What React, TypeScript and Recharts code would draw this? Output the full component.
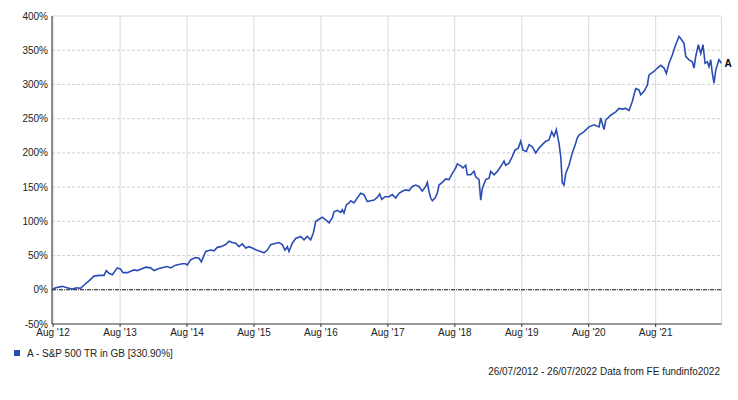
import React from "react";
import { LineChart, Line, XAxis, YAxis, CartesianGrid, ReferenceLine } from "recharts";

// elapsed months since 26/07/2012
const monthsSinceStart = [
  0, 0.66, 1.85, 2.69, 3.58, 4.48, 5.14, 5.74, 6.63, 7.53, 8.42, 9.32, 9.73, 10.22, 10.81, 11.7,
  12.31, 12.73, 13.5, 14.11, 14.7, 15.29, 15.9, 16.8, 17.69, 18.28, 19.18, 20.07, 20.67, 21.28, 22.17, 23.36,
  23.96, 24.25, 24.86, 25.76, 26.35, 26.76, 27.55, 28.45, 29.04, 29.63, 30.24, 31.13, 31.73, 32.32, 32.93,
  33.52, 34.11, 34.72, 35.31, 35.9, 36.62, 37.41, 38.0, 38.59, 39.2, 40.1, 40.69, 41.28, 41.76, 42.18,
  42.48, 43.07, 43.68, 44.58, 45.17, 45.76, 46.37, 46.84, 47.27, 47.86, 48.45, 49.06, 49.65,
  50.24, 50.55, 51.14, 51.75, 52.03, 52.34, 52.75, 53.23, 53.54, 54.13, 54.72, 55.33, 55.92, 56.52,
  57.12, 57.72, 58.31, 58.74, 59.1, 59.69, 60.41, 61.0, 61.61, 62.2, 62.79, 63.4, 63.99, 64.58, 65.19,
  65.78, 66.37, 66.98, 67.27, 67.57, 67.88, 68.17, 68.65, 69.06, 69.37, 69.96, 70.57, 71.16, 71.75, 72.36,
  72.65, 73.26, 73.67, 74.15, 74.44, 75.05, 75.64, 75.95, 76.54, 76.84, 77.13, 77.74, 78.33, 78.64, 79.23,
  79.82, 80.43, 81.02, 81.32, 81.91, 82.51, 82.99, 83.58, 84.01, 84.42, 85.02, 85.5, 86.09, 86.7, 87.29,
  87.88, 88.49, 89.08, 89.57, 89.98, 90.39, 90.88, 91.18, 91.47, 91.77, 92.08, 92.67, 93.26, 93.87,
  94.1, 94.46, 95.36, 96.25, 97.15, 98.05, 98.35, 98.94, 99.25, 100.14, 101.04, 101.63, 102.22, 102.83,
  103.42, 104.01, 104.62, 105.21, 105.52, 106.11, 106.7, 107.01, 107.9, 108.5, 109.11, 109.7, 110.11,
  110.59, 111.18, 111.79, 112.38, 112.69, 113.28, 113.59, 114.18, 114.77, 115.07, 115.38, 115.85, 116.28,
  116.69, 117.05, 117.46, 117.76, 118.07, 118.36, 118.66, 118.97, 119.43, 119.55, 120,
];

// cumulative total return, %
const returnPct = [
  0, 3, 5, 3, 1, 3, 2, 7, 13, 20, 21, 21, 28, 24, 22, 32,
  30, 25, 25, 27, 29, 28, 30, 33, 32, 28, 31, 33, 34, 32, 36, 38,
  38, 36, 44, 47, 46, 41, 56, 58, 57, 62, 63, 66, 71, 69, 68,
  63, 67, 61, 63, 61, 58, 56, 54, 58, 66, 68, 69, 66, 58, 63,
  56, 68, 75, 78, 73, 78, 73, 83, 100, 103, 106, 102, 98,
  105, 114, 116, 113, 117, 112, 124, 127, 130, 127, 134, 141, 139, 129,
  130, 131, 135, 140, 132, 136, 136, 139, 134, 141, 144, 146, 145, 151, 153,
  151, 144, 151, 157, 144, 134, 130, 134, 141, 153, 157, 162, 161, 170, 178,
  184, 181, 178, 182, 168, 168, 173, 165, 161, 131, 148, 161, 163, 173, 168,
  173, 180, 188, 182, 185, 195, 204, 207, 217, 204, 202, 212, 209, 200, 207,
  212, 217, 219, 231, 224, 234, 214, 195, 156, 153, 170, 182, 200, 214,
  221, 226, 231, 238, 241, 238, 251, 234, 248, 255, 260, 265, 264, 265,
  262, 275, 294, 292, 285, 290, 299, 314, 319, 324, 328, 324, 316,
  331, 343, 358, 370, 367, 360, 341, 336, 333, 324, 341, 358, 345,
  358, 331, 333, 326, 336, 316, 302, 321, 333, 336, 330.9,
];

const xTicks = [0.2, 12.2, 24.2, 36.2, 48.2, 60.2, 72.2, 84.2, 96.2, 108.2];
const xTickLabels = ["Aug '12", "Aug '13", "Aug '14", "Aug '15", "Aug '16", "Aug '17", "Aug '18", "Aug '19", "Aug '20", "Aug '21"];
const yTicks = [-50, 0, 50, 100, 150, 200, 250, 300, 350, 400];
const dashedLevels = [50, 100, 150, 200, 250, 300, 350];

const seriesName = "A - S&P 500 TR in GB [330.90%]";
const footer = "26/07/2012 - 26/07/2022 Data from FE fundinfo2022";

const data = monthsSinceStart.map((m, i) => ({ m, v: returnPct[i] }));

const FONT = "'Liberation Sans', Arial, sans-serif";
const BLUE = "#2a4db5";
const lastIndex = data.length - 1;

const EndLabel = (props: any) => {
  const { x, y, index } = props;
  if (index !== lastIndex) return null;
  return (
    <text x={x + 3} y={y} dy="0.35em" fontSize={10} fontWeight="bold" fill="#000" fontFamily={FONT}>
      A
    </text>
  );
};

export default function App() {
  return (
    <div style={{ position: "absolute", left: 0, top: 0, width: 738, height: 400, background: "#fff" }}>
      <LineChart
        width={738}
        height={400}
        data={data}
        margin={{ top: 16, right: 16.5, bottom: 46, left: 0 }}
      >
        <CartesianGrid horizontal={false} vertical={true} stroke="#d9d9d9" strokeWidth={1} />
        {dashedLevels.map((lv) => (
          <ReferenceLine key={lv} y={lv} stroke="#cfcfcf" strokeDasharray="3 2" strokeWidth={1} />
        ))}
        <ReferenceLine y={400} stroke="#d9d9d9" strokeWidth={1} />
        <ReferenceLine x={120} stroke="#d9d9d9" strokeWidth={1} />
        <ReferenceLine y={0} stroke="#111" strokeDasharray="4 1 1 1" strokeWidth={1} />
        <XAxis
          dataKey="m"
          type="number"
          domain={[0, 120]}
          ticks={xTicks}
          tickFormatter={(v: number, i: number) => xTickLabels[i]}
          allowDataOverflow
          height={30}
          stroke="#333"
          tickSize={3}
          tickMargin={1.5}
          tick={{ fill: "#222", fontSize: 10, fontFamily: FONT }}
          interval={0}
        />
        <YAxis
          type="number"
          domain={[-50, 400]}
          ticks={yTicks}
          tickFormatter={(v: number) => `${v}%`}
          width={52}
          stroke="#333"
          tickLine={false}
          tickSize={0}
          tickMargin={4}
          tick={{ fill: "#222", fontSize: 10, fontFamily: FONT }}
          interval={0}
        />
        <Line
          type="linear"
          dataKey="v"
          stroke={BLUE}
          strokeWidth={1.6}
          dot={false}
          isAnimationActive={false}
          label={<EndLabel />}
        />
      </LineChart>
      <svg width={738} height={400} style={{ position: "absolute", left: 0, top: 0, pointerEvents: "none" }}>
        <rect x={14} y={350} width={6} height={6} fill={BLUE} />
        <text x={27} y={353} dy="0.35em" fontSize={10} fill="#222" fontFamily={FONT}>
          {seriesName}
        </text>
        <text x={720} y={371} dy="0.35em" fontSize={10} fill="#222" fontFamily={FONT} textAnchor="end">
          {footer}
        </text>
      </svg>
    </div>
  );
}
